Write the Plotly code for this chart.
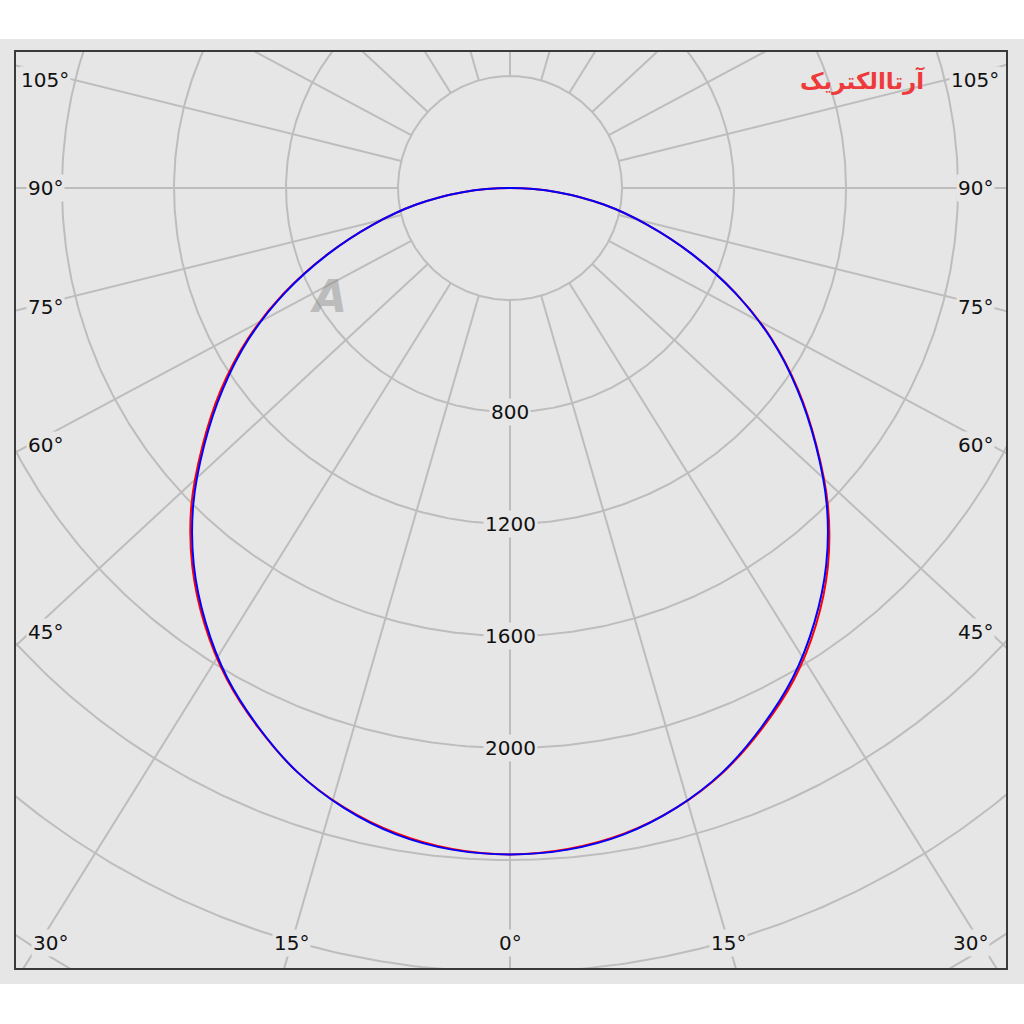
import numpy as np
import plotly.graph_objects as go

# ---------------- data (luminous intensity, cd) ----------------
gamma_deg = [0, 5, 10, 15, 20, 25, 30, 35, 40, 45, 50, 55, 60, 65, 70, 75, 80, 85, 90]

# C90 / C270 plane (blue)
c90 = [2380, 2372, 2344, 2292, 2220, 2125, 2020, 1895, 1757, 1600, 1425, 1252, 1077, 888, 693, 508, 340, 170, 0]
c270 = [2380, 2372, 2344, 2292, 2220, 2125, 2020, 1895, 1757, 1600, 1425, 1252, 1077, 888, 693, 508, 340, 170, 0]
# C0 / C180 plane (red)
c0 = [2380, 2370, 2342, 2292, 2222, 2130, 2028, 1905, 1766, 1606, 1428, 1256, 1080, 890, 694, 508, 340, 170, 0]
c180 = [2380, 2370, 2340, 2290, 2220, 2127, 2024, 1902, 1765, 1610, 1434, 1262, 1084, 892, 695, 508, 340, 170, 0]

radial_grid = [400, 800, 1200, 1600, 2000, 2400, 2800, 3200, 3600]
radial_labels = [800, 1200, 1600, 2000]
spoke_angles = [0, 15, 30, 45, 60, 75, 90, 105, 120, 135, 150, 165, 180]
angle_labels = [0, 15, 30, 45, 60, 75, 90, 105]

# ---------------- geometry (pixels) ----------------
K = 0.28            # px per cd
CX, CY = 510, 188   # pole position in the window
FL, FT, FR, FB = 15, 51, 1007, 969   # frame
W, H = 1024, 1024
SPOKE_STRETCH = 1.08  # the reference draws spokes slightly widened horizontally

def to_xy(intensity, gamma, side):
    g = np.radians(np.asarray(gamma, dtype=float))
    i = np.asarray(intensity, dtype=float)
    return side * i * np.sin(g), -i * np.cos(g)

fig = go.Figure()

# grid circles
t = np.linspace(0, 2 * np.pi, 721)
gx, gy = [], []
for r in radial_grid:
    gx += list(r * np.cos(t)) + [None]
    gy += list(r * np.sin(t)) + [None]
fig.add_trace(go.Scatter(x=gx, y=gy, mode="lines", hoverinfo="skip",
                         line=dict(color="#bdbdbd", width=2), showlegend=False))

# spokes
sx, sy = [], []
for a in spoke_angles:
    for side in (-1, 1):
        g = np.radians(a)
        dx, dy = side * SPOKE_STRETCH * np.sin(g), -np.cos(g)
        n = np.hypot(dx, dy)
        dx, dy = dx / n, dy / n
        sx += [radial_grid[0] * dx, 5000 * dx, None]
        sy += [radial_grid[0] * dy, 5000 * dy, None]
fig.add_trace(go.Scatter(x=sx, y=sy, mode="lines", hoverinfo="skip",
                         line=dict(color="#bdbdbd", width=2), showlegend=False))

# curves
def plane_curve(left, right):
    lx, ly = to_xy(left[::-1], gamma_deg[::-1], -1)
    rx, ry = to_xy(right, gamma_deg, 1)
    return np.concatenate([lx, rx[1:]]), np.concatenate([ly, ry[1:]])

x_red, y_red = plane_curve(c180, c0)
x_blue, y_blue = plane_curve(c270, c90)
fig.add_trace(go.Scatter(x=x_red, y=y_red, mode="lines", name="C0-C180",
                         line=dict(color="#ff0000", width=2, shape="spline"), showlegend=False))
fig.add_trace(go.Scatter(x=x_blue, y=y_blue, mode="lines", name="C90-C270",
                         line=dict(color="#0000ff", width=2, shape="spline"), showlegend=False))

# ---------------- annotations ----------------
FONT = dict(family="DejaVu Sans", size=20, color="#111111")
ann = []
for r in radial_labels:
    ann.append(dict(x=0, y=-r, xref="x", yref="y", text=str(r), showarrow=False,
                    font=FONT, bgcolor="#e6e6e6", borderpad=1))

# angle labels: side labels on the left/right columns, low angles on the bottom row
LABEL_L, LABEL_R, LABEL_B = 45, 975, 943
for a in angle_labels:
    for side in ((-1, 1) if a else (1,)):
        g = np.radians(a)
        dx, dy = side * SPOKE_STRETCH * np.sin(g), np.cos(g)  # pixel space, y down
        if a <= 30:
            py = LABEL_B
            px = CX + (LABEL_B - CY) / dy * dx
            px = min(max(px, 50), 970)
        else:
            px = LABEL_L if side < 0 else LABEL_R
            py = CY + (480 / abs(dx)) * dy
            py = max(py, 80)
        ann.append(dict(x=(px - CX) / K, y=(CY - py) / K, xref="x", yref="y",
                        text=f"{a}°", showarrow=False, font=FONT,
                        bgcolor="#e6e6e6", borderpad=1))

# logo text (top right) and watermark
ann.append(dict(x=(862 - CX) / K, y=(CY - 80) / K, xref="x", yref="y",
                text="<b>آرتاالکتریک</b>", showarrow=False,
                font=dict(family="DejaVu Sans", size=23, color="#ee3a3a")))
ann.append(dict(x=(328 - CX) / K, y=(CY - 296) / K, xref="x", yref="y",
                text="<i><b>A</b></i>", showarrow=False, opacity=0.45,
                font=dict(family="DejaVu Sans", size=44, color="#8a8a8a")))

pw, ph = FR - FL, FB - FT
fig.update_layout(
    width=W, height=H,
    margin=dict(l=FL, r=W - FR, t=FT, b=H - FB, pad=0),
    paper_bgcolor="#ffffff",
    plot_bgcolor="#e6e6e6",
    xaxis=dict(range=[(FL - CX) / K, (FR - CX) / K], visible=False, fixedrange=True),
    yaxis=dict(range=[(CY - FB) / K, (CY - FT) / K], visible=False, fixedrange=True),
    annotations=ann,
    shapes=[
        dict(type="rect", xref="paper", yref="paper", layer="below",
             x0=(0 - FL) / pw, x1=(W - FL) / pw,
             y0=(FB - 984) / ph, y1=(FB - 39) / ph,
             fillcolor="#e6e6e6", line=dict(width=0)),
        dict(type="rect", xref="paper", yref="paper", layer="above",
             x0=0, x1=1, y0=0, y1=1, line=dict(color="#3a3a3a", width=2)),
    ],
    showlegend=False,
)

fig.write_html("out.html", config={"displayModeBar": False},
               post_script="document.body.style.margin='0px';")
